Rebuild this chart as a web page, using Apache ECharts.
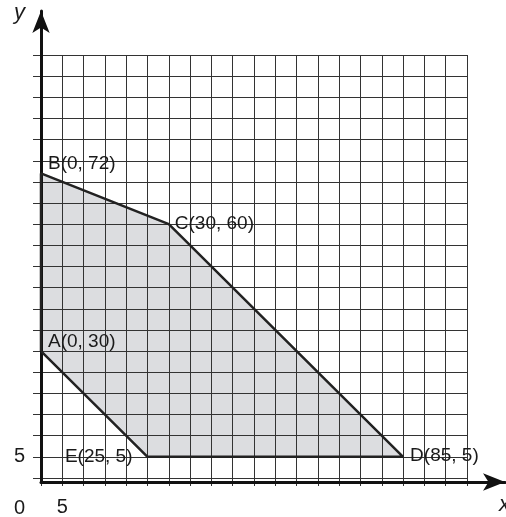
<!DOCTYPE html>
<html>
<head>
<meta charset="utf-8">
<script src="https://cdn.jsdelivr.net/npm/echarts@6/dist/echarts.min.js"></script>
<style>
  html, body { margin: 0; padding: 0; background: #fff; }
  #chart { width: 506px; height: 517px; }
</style>
</head>
<body>
<div id="chart"></div>
<script>
// vertices of the feasible region, in drawing order
const vertexNames = ['A', 'B', 'C', 'D', 'E'];
const vertexX = [0, 0, 30, 85, 25];
const vertexY = [30, 72, 60, 5, 5];
// only these ticks get a number
const xTickLabels = [5];
const yTickLabels = [5];

const FONT = '"Liberation Sans Narrow", "Arial Narrow", "Liberation Sans", sans-serif';
const INK = '#1a1a1a';

// label placement per vertex
const labelPos = {
    A: { position: 'right', distance: 6, offset: [0, -9] },
    B: { position: 'right', distance: 6, offset: [0, -10] },
    C: { position: 'right', distance: 5, offset: [0, 0] },
    D: { position: 'right', distance: 6, offset: [0, -1] },
    E: { position: 'left', distance: 14, offset: [0, 0] }
};

const outline = vertexX.map((x, i) => [x, vertexY[i]]);
outline.push([vertexX[0], vertexY[0]]); // close back to A

const vertexLabels = vertexX.map((x, i) => ({
    value: [x, vertexY[i]],
    name: vertexNames[i],
    label: Object.assign({
        show: true,
        formatter: `${vertexNames[i]}(${x}, ${vertexY[i]})`,
        color: INK,
        fontFamily: FONT,
        fontSize: 19
    }, labelPos[vertexNames[i]])
}));

const chart = echarts.init(document.getElementById('chart'));

const option = {
    animation: false,
    grid: [
        { left: 41, right: 39, top: 55, bottom: 35 },
        { left: 41, right: 1, top: 11, bottom: 35 }
    ],
    xAxis: [
        {
            gridIndex: 0, type: 'value', min: 0, max: 100, interval: 5, z: 3,
            axisLine: { show: false },
            axisTick: { show: true, length: 8, lineStyle: { color: '#333', width: 1 } },
            splitLine: { show: true, lineStyle: { color: '#333', width: 1 } },
            axisLabel: {
                margin: 19, color: INK, fontFamily: FONT, fontSize: 20,
                formatter: v => xTickLabels.includes(v) ? String(v) : ''
            }
        },
        {
            gridIndex: 1, type: 'value', min: 0, max: 1, z: 4,
            axisLine: { show: true, symbol: ['none', 'arrow'], symbolSize: [13, 22],
                lineStyle: { color: '#111', width: 3 } },
            axisTick: { show: false }, splitLine: { show: false }, axisLabel: { show: false }
        }
    ],
    yAxis: [
        {
            gridIndex: 0, type: 'value', min: 0, max: 100, interval: 5, z: 3,
            axisLine: { show: false },
            axisTick: { show: true, length: 8, lineStyle: { color: '#333', width: 1 } },
            splitLine: { show: true, lineStyle: { color: '#333', width: 1 } },
            axisLabel: {
                margin: 16, color: INK, fontFamily: FONT, fontSize: 20,
                formatter: v => yTickLabels.includes(v) ? String(v) : ''
            }
        },
        {
            gridIndex: 1, type: 'value', min: 0, max: 1, z: 4,
            axisLine: { show: true, symbol: ['none', 'arrow'], symbolSize: [13, 22],
                lineStyle: { color: '#111', width: 3 } },
            axisTick: { show: false }, splitLine: { show: false }, axisLabel: { show: false }
        }
    ],
    series: [
        {
            type: 'custom',
            xAxisIndex: 0, yAxisIndex: 0,
            z: 1,
            data: [0],
            renderItem: (params, api) => {
                const pts = vertexX.map((x, i) => api.coord([x, vertexY[i]]));
                return { type: 'polygon', shape: { points: pts }, style: { fill: '#dcdde0' } };
            }
        },
        {
            type: 'line',
            xAxisIndex: 0, yAxisIndex: 0,
            z: 5,
            symbol: 'none',
            lineStyle: { color: '#222', width: 2.5 },
            data: outline
        },
        {
            type: 'scatter',
            xAxisIndex: 0, yAxisIndex: 0,
            z: 6,
            symbolSize: 2,
            itemStyle: { color: 'rgba(0,0,0,0)', opacity: 1 },
            data: vertexLabels
        }
    ],
    graphic: [
        { type: 'text', left: 14, top: 498, style: { text: '0', font: '20px ' + FONT, fill: INK } },
        { type: 'text', left: 14, top: 2, style: { text: 'y', font: 'italic 22px ' + FONT, fill: INK } },
        { type: 'text', left: 499, top: 494, style: { text: 'x', font: 'italic 22px ' + FONT, fill: INK } }
    ]
};

chart.setOption(option);
</script>
</body>
</html>
